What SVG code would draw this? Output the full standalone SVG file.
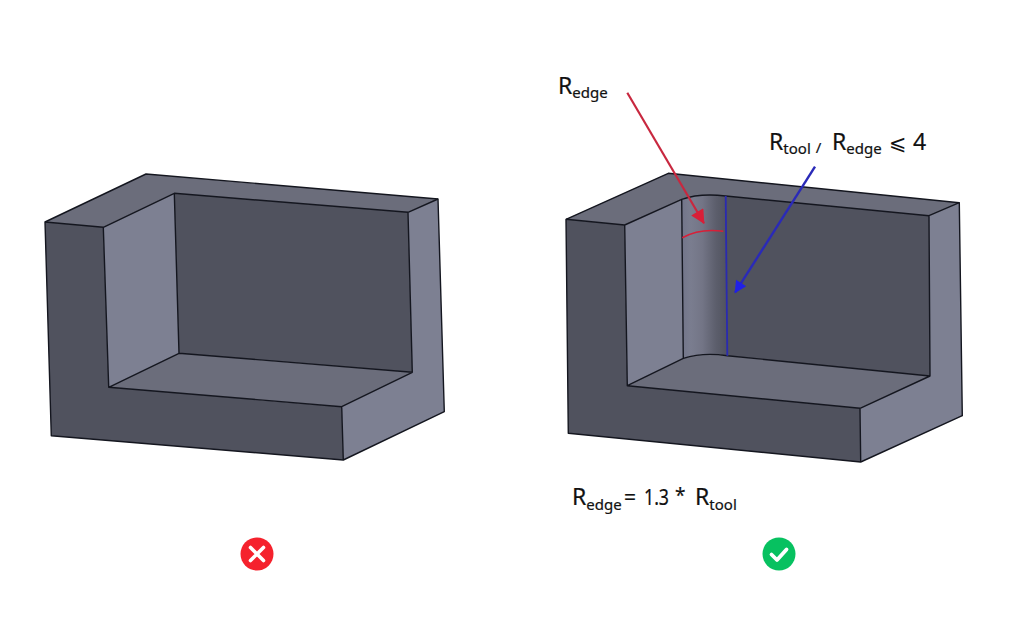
<svg xmlns="http://www.w3.org/2000/svg" width="1024" height="618" viewBox="0 0 1024 618">
<style>
.e{stroke:#14161f;stroke-width:1.4;stroke-linejoin:round;fill:none}
.d{fill:#50525e}.m{fill:#6b6d7b}.l{fill:#7d8092}
text{font-family:"Noto Sans","Open Sans",sans-serif;fill:#111;font-size:23px;stroke:#111;stroke-width:.2}
.s{font-size:15px}
</style>
<defs>
<linearGradient id="fillet" x1="0" x2="1" y1="0" y2="0">
<stop offset="0" stop-color="#72758a"/><stop offset=".2" stop-color="#7a7d8f"/><stop offset=".45" stop-color="#737586"/><stop offset=".75" stop-color="#5c5e6c"/><stop offset="1" stop-color="#50525e"/>
</linearGradient>
<marker id="ar" viewBox="0 0 10 10" refX="9.500" refY="5" markerWidth="20" markerHeight="14" markerUnits="userSpaceOnUse" orient="auto"><path d="M0 0L10 5L0 10z" fill="#d81f38"/></marker>
<marker id="ab" viewBox="0 0 10 10" refX="9.500" refY="5" markerWidth="18" markerHeight="12" markerUnits="userSpaceOnUse" orient="auto"><path d="M0 0L10 5L0 10z" fill="#2020e8"/></marker>
</defs>
<rect width="1024" height="618" fill="#fff"/>
<g id="part-bad">
<path class="d" d="M45 222L103.300 227.300L108.700 387.300L341.700 406.700L343.300 460L51.300 435.700Z"/>
<path class="m" d="M45 222L146 174L438 199L408 212.300L174.300 193.300L103.300 227.300Z"/>
<path class="l" d="M103.300 227.300L174.300 193.300L179 353.300L108.700 387.300Z"/>
<path class="d" d="M174.300 193.300L408 212.300L412.300 372.300L179 353.300Z"/>
<path class="m" d="M108.700 387.300L179 353.300L412.300 372.300L341.700 406.700Z"/>
<path class="l" d="M408 212.300L438 199L444.300 411.700L343.300 460L341.700 406.700L412.300 372.300Z"/>
<path class="e" d="M45 222L146 174L438 199L444.300 411.700L343.300 460L51.300 435.700Z"/>
<path class="e" d="M45 222L103.300 227.300L174.300 193.300L408 212.300L438 199M103.300 227.300L108.700 387.300L179 353.300L412.300 372.300L341.700 406.700L108.700 387.300M174.300 193.300L179 353.300M408 212.300L412.300 372.300M341.700 406.700L343.300 460"/>
</g>
<g id="part-good">
<path class="d" d="M566 219.300L624.700 225L627.300 385.700L860 408.300L860.700 462L568.300 433.300Z"/>
<path class="m" d="M566 219.300L668.300 173.300L959.300 202.700L929 215.700L725.700 196Q700 193 681.700 199.300L624.700 225Z"/>
<path class="l" d="M624.700 225L681.700 199.300L683.300 358.300L627.300 385.700Z"/>
<path fill="url(#fillet)" d="M681.700 199.300Q700 193 725.700 196L727.300 355.700Q703 352 683.300 358.300Z"/>
<path class="d" d="M725.700 196L929 215.700L930 376L727.300 355.700Z"/>
<path class="m" d="M627.300 385.700L683.300 358.300Q703 352 727.300 355.700L930 376L860 408.300Z"/>
<path class="l" d="M929 215.700L959.300 202.700L962.300 415.700L860.700 462L860 408.300L930 376Z"/>
<path class="e" d="M566 219.300L668.300 173.300L959.300 202.700L962.300 415.700L860.700 462L568.300 433.300Z"/>
<path class="e" d="M566 219.300L624.700 225L681.700 199.300Q700 193 725.700 196L929 215.700L959.300 202.700M624.700 225L627.300 385.700L683.300 358.300Q703 352 727.300 355.700L930 376L860 408.300L627.300 385.700M681.700 199.300L683.300 358.300M929 215.700L930 376M860 408.300L860.700 462"/>
</g>
<g id="connectors" fill="none">
<path d="M725.700 196L727.300 355.700" stroke="#2a2ab0" stroke-width="1.800"/>
<path d="M627.300 92.700L704 223.300" stroke="#c8283f" stroke-width="2.200" marker-end="url(#ar)"/>
<path d="M682.300 237.700Q700 228 723.300 231.300" stroke="#d81f38" stroke-width="1.600"/>
<path d="M815 166.700L735 292.700" stroke="#2a2ab8" stroke-width="2.400" marker-end="url(#ab)"/>
</g>
<g id="label-redge"><text x="558" y="94">R<tspan class="s" dy="4">edge</tspan></text></g>
<g id="label-ratio"><text x="769" y="150">R<tspan class="s" dy="4">tool</tspan><tspan class="s" dx="5" dy="-1" font-size="13">/</tspan><tspan x="832" dy="-3">R</tspan><tspan class="s" dy="4">edge</tspan><tspan x="889" dy="-4" style="font-family:'DejaVu Sans',sans-serif;font-size:21px;stroke-width:0">⩽</tspan><tspan x="913">4</tspan></text></g>
<g id="label-formula"><text x="572" y="505">R<tspan class="s" dy="5">edge</tspan><tspan x="624" dy="-5" font-size="21">=</tspan><tspan x="644" font-size="21" textLength="25" lengthAdjust="spacingAndGlyphs">1.3</tspan><tspan x="675" y="502" font-size="19">*</tspan><tspan x="695" y="505">R</tspan><tspan class="s" dy="5">tool</tspan></text></g>
<g id="icon-bad">
<circle cx="257" cy="554" r="16.500" fill="#f5222d"/>
<path d="M250.500 547.500L263.500 560.500M263.500 547.500L250.500 560.500" stroke="#fff" stroke-width="3.600" stroke-linecap="round"/>
</g>
<g id="icon-good">
<circle cx="779" cy="554" r="16.500" fill="#07c160"/>
<path d="M771.500 554.500L777 560L786.500 549.500" stroke="#fff" stroke-width="3.800" fill="none" stroke-linecap="round" stroke-linejoin="round"/>
</g>
</svg>
